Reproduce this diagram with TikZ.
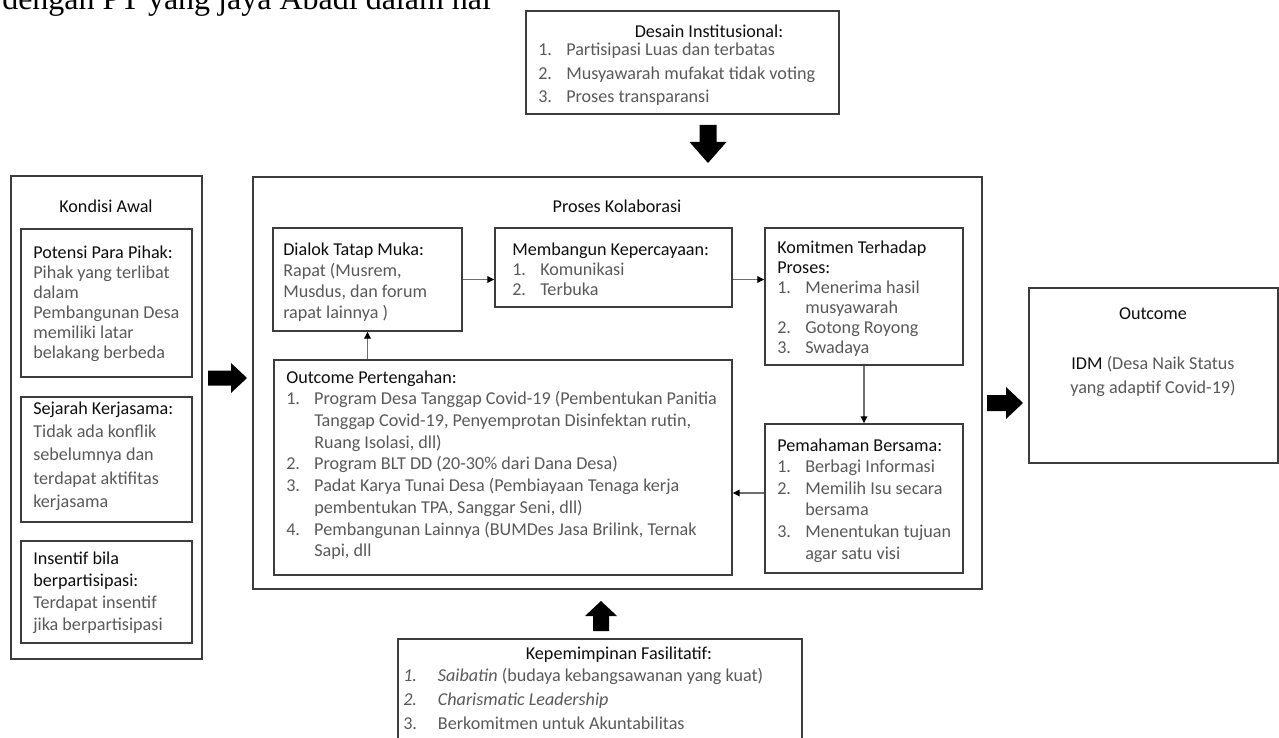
\documentclass[tikz,border=0pt]{standalone}
\usepackage{fontspec}
\setmainfont{Carlito}
\newfontfamily\serifdoc{Liberation Serif}
\usetikzlibrary{arrows.meta,fit}
\definecolor{boxc}{RGB}{60,60,60}
\definecolor{connc}{RGB}{110,110,110}
\definecolor{bodyc}{RGB}{89,89,89}
\definecolor{titlec}{RGB}{13,13,13}
\newcommand{\tbl}[2]{\fontsize{13.6}{#1}\selectfont\renewcommand{\arraystretch}{1}\begin{tabular}[t]{@{}l@{}}#2\end{tabular}}
\newcommand{\ctbl}[2]{\fontsize{13.6}{#1}\selectfont\renewcommand{\arraystretch}{1}\begin{tabular}[t]{@{}c@{}}#2\end{tabular}}
\newcommand{\ti}[1]{\textcolor{titlec}{#1}}
\newcommand{\nb}[2][21pt]{\makebox[#1][l]{#2}}
\newcommand{\hind}[1][21pt]{\hspace*{#1}}
\tikzset{
  box/.style={draw=boxc, line width=1.4pt, inner sep=0pt},
  conn/.style={draw=connc, line width=0.8pt, -{Triangle[length=5pt,width=5pt,color=black]}},
  txt/.style={anchor=base west, inner sep=0pt, text=bodyc},
  ttl/.style={anchor=base, inner sep=0pt, text=titlec, font=\fontsize{13.6}{16}\selectfont},
  blk/.style={fill=black, draw=none}
}
\begin{document}
\begin{tikzpicture}[x=0.75pt,y=-0.75pt]
\useasboundingbox (0,0) rectangle (1279,738);

% cut-off document text at the top
\node[anchor=base west, inner sep=0pt, font=\serifdoc\fontsize{24}{28}\selectfont] (toptext) at (2,10) {dengan PT yang jaya Abadi dalam hal};

% boxes
\node[box, fit={(526,11)(839,114)}] (desain) {};
\node[box, fit={(11,176)(202,659)}] (kondisi) {};
\node[box, fit={(21,229)(192,377)}] (potensi) {};
\node[box, fit={(21,397)(192,522)}] (sejarah) {};
\node[box, fit={(21,541)(192,643)}] (insentif) {};
\node[box, fit={(253,177)(982,589)}] (proses) {};
\node[box, fit={(273,228)(462,331)}] (dialok) {};
\node[box, fit={(495,228)(732,307)}] (membangun) {};
\node[box, fit={(765,228)(963,365)}] (komitmen) {};
\node[box, fit={(274,360)(732,575)}] (outpert) {};
\node[box, fit={(765,424)(963,573)}] (pemahaman) {};
\node[box, fit={(1029,288)(1278,463)}] (outcome) {};
\node[box, fit={(398,639)(802,770)}] (kepemimpinan) {};

% texts
\node[ttl] (tdesain) at (709,38) {Desain Institusional:};
\node[txt] (ldesain) at (538,56) {\tbl{17.6pt}{\nb{1.}Partisipasi Luas dan terbatas\\ \nb{2.}Musyawarah mufakat tidak voting\\ \nb{3.}Proses transparansi}};

\node[ttl] (tkondisi) at (106,213) {Kondisi Awal};
\node[txt] (lpotensi) at (33,259) {\tbl{15pt}{\ti{Potensi Para Pihak:}\\ Pihak yang terlibat\\ dalam\\ Pembangunan Desa\\ memiliki latar\\ belakang berbeda}};
\node[txt] (lsejarah) at (33,414) {\tbl{17.6pt}{\ti{Sejarah Kerjasama:}\\ Tidak ada konflik\\ sebelumnya dan\\ terdapat aktifitas\\ kerjasama}};
\node[txt] (linsentif) at (33,564) {\tbl{16.7pt}{\ti{Insentif bila}\\ \ti{berpartisipasi:}\\ Terdapat insentif\\ jika berpartisipasi}};

\node[ttl] (tproses) at (617,213) {Proses Kolaborasi};
\node[txt] (ldialok) at (283,256) {\tbl{15.75pt}{\ti{Dialok Tatap Muka:}\\ Rapat (Musrem,\\ Musdus, dan forum\\ rapat lainnya )}};
\node[txt] (lmembangun) at (512,256) {\tbl{15pt}{\ti{Membangun Kepercayaan:}\\ \nb{1.}Komunikasi\\ \nb{2.}Terbuka}};
\node[txt] (lkomitmen) at (777,253) {\tbl{15.15pt}{\ti{Komitmen Terhadap}\\ \ti{Proses:}\\ \nb{1.}Menerima hasil\\ \hind musyawarah\\ \nb{2.}Gotong Royong\\ \nb{3.}Swadaya}};
\node[txt] (loutpert) at (286,383) {\tbl{16.3pt}{\ti{Outcome Pertengahan:}\\ \nb{1.}Program Desa Tanggap Covid-19 (Pembentukan Panitia\\ \hind Tanggap Covid-19, Penyemprotan Disinfektan rutin,\\ \hind Ruang Isolasi, dll)\\ \nb{2.}Program BLT DD (20-30\% dari Dana Desa)\\ \nb{3.}Padat Karya Tunai Desa (Pembiayaan Tenaga kerja\\ \hind pembentukan TPA, Sanggar Seni, dll)\\ \nb{4.}Pembangunan Lainnya (BUMDes Jasa Brilink, Ternak\\ \hind Sapi, dll}};
\node[txt] (lpemahaman) at (777,451) {\tbl{16.2pt}{\ti{Pemahaman Bersama:}\\ \nb{1.}Berbagi Informasi\\ \nb{2.}Memilih Isu secara\\ \hind bersama\\ \nb{3.}Menentukan tujuan\\ \hind agar satu visi}};

\node[ttl] (toutcome) at (1153,320) {Outcome};
\node[anchor=base, inner sep=0pt, text=bodyc] (loutcome) at (1153,369) {\ctbl{18pt}{\ti{IDM} (Desa Naik Status\\ yang adaptif Covid-19)}};

\node[ttl] (tkepemimpinan) at (619,659) {Kepemimpinan Fasilitatif:};
\node[txt] (lkepemimpinan) at (403,681) {\tbl{18pt}{\textit{\nb[26pt]{1.}Saibatin} (budaya kebangsawanan yang kuat)\\ \textit{\nb[26pt]{2.}Charismatic Leadership}\\ \nb[26pt]{3.}Berkomitmen untuk Akuntabilitas}};

% thin connectors
\draw[conn] (dialok.east) -- (membangun.west |- dialok.east);
\draw[conn] (membangun.east |- dialok.east) -- (komitmen.west |- dialok.east);
\draw[conn] (komitmen.south) -- (pemahaman.north);
\draw[conn] (pemahaman.west |- 0,493) -- (outpert.east |- 0,493);
\draw[conn] (outpert.north -| dialok.south) -- (dialok.south);

% block arrows
\fill[blk] (699.5,125) -- (716.5,125) -- (716.5,142) -- (726.5,142) -- (708,163) -- (689.5,142) -- (699.5,142) -- cycle;
\fill[blk] (208,370.5) -- (231,370.5) -- (231,363) -- (247,378) -- (231,393) -- (231,385.5) -- (208,385.5) -- cycle;
\fill[blk] (987,395) -- (1006,395) -- (1006,387) -- (1023,403) -- (1006,419) -- (1006,411) -- (987,411) -- cycle;
\fill[blk] (593,631) -- (593,616) -- (585,616) -- (601,601) -- (617,616) -- (609,616) -- (609,631) -- cycle;
\end{tikzpicture}
\end{document}
